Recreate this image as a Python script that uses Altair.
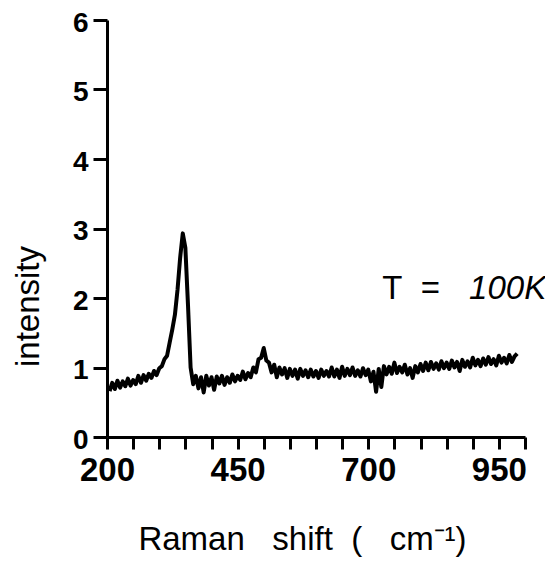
import altair as alt
import pandas as pd

shift = list(range(205, 990, 5))
intensity = [
    0.66, 0.78, 0.69, 0.81, 0.71, 0.80, 0.73, 0.84, 0.74, 0.82,   # 205-250
    0.76, 0.88, 0.78, 0.89, 0.81, 0.91, 0.85, 0.95, 0.89, 0.99,   # 255-300
    1.02, 1.12, 1.17, 1.36, 1.55, 1.76, 2.12, 2.58, 2.93, 2.72,   # 305-350
    1.90, 1.00, 0.76, 0.88, 0.70, 0.86, 0.64, 0.88, 0.74, 0.86,   # 355-400
    0.68, 0.87, 0.77, 0.88, 0.75, 0.86, 0.78, 0.90, 0.80, 0.88,   # 405-450
    0.82, 0.94, 0.83, 0.92, 0.86, 1.00, 0.93, 1.12, 1.14, 1.28,   # 455-500
    1.10, 1.07, 0.93, 1.04, 0.86, 1.00, 0.90, 0.99, 0.85, 0.98,   # 505-550
    0.88, 0.97, 0.84, 0.98, 0.88, 0.96, 0.86, 0.97, 0.87, 0.95,   # 555-600
    0.85, 0.97, 0.88, 0.95, 0.87, 1.00, 0.87, 0.97, 0.85, 1.01,   # 605-650
    0.88, 0.98, 0.89, 1.00, 0.88, 0.96, 0.87, 0.99, 0.89, 0.97,   # 655-700
    0.80, 0.94, 0.65, 0.98, 0.72, 1.02, 0.90, 1.01, 0.91, 1.07,   # 705-750
    0.92, 1.01, 0.93, 1.04, 0.90, 0.99, 0.85, 1.02, 0.93, 1.05,   # 755-800
    0.95, 1.07, 0.96, 1.08, 0.98, 1.06, 0.97, 1.09, 0.99, 1.07,   # 805-850
    0.98, 1.10, 1.00, 1.08, 0.95, 1.11, 1.01, 1.09, 1.00, 1.14,   # 855-900
    1.03, 1.11, 1.02, 1.13, 1.04, 1.15, 1.05, 1.12, 1.03, 1.17,   # 905-950
    1.07, 1.14, 1.06, 1.18, 1.08, 1.16, 1.20,                     # 955-985
]

NB = "\u00a0"
temp_text = ["T" + NB * 2 + "=", "100K"]
temp_shift = [727, 893]
temp_intensity = [1.99, 1.99]

df = pd.DataFrame({"shift": shift, "intensity": intensity})

FONT = "Liberation Sans"

x_title = "Raman" + NB * 3 + "shift" + NB * 2 + "(" + NB * 3 + "cm\u207b\u00b9)"

x_enc = alt.X(
    "shift:Q",
    scale=alt.Scale(domain=[200, 1000], nice=False, zero=False),
    axis=alt.Axis(
        values=list(range(200, 1001, 50)),
        labelExpr="(datum.value - 200) % 250 == 0 ? datum.label : ''",
        format="d",
        title=x_title,
        titleX=195, titleY=112, titleAlign="center", titleBaseline="alphabetic",
        titleFont=FONT, titleFontSize=33, titleFontWeight="normal",
        labelFont=FONT, labelFontSize=33, labelFontWeight="bold",
        labelPadding=5, tickSize=12, tickWidth=3, domainWidth=3,
        tickColor="black", domainColor="black", labelColor="black",
        titleColor="black", grid=False, labelFlush=False, labelOverlap=False,
    ),
)
y_enc = alt.Y(
    "intensity:Q",
    scale=alt.Scale(domain=[0, 6], nice=False),
    axis=alt.Axis(
        values=[0, 1, 2, 3, 4, 5, 6],
        format="d",
        title="intensity",
        titleX=-69, titleY=286, titleAlign="center", titleBaseline="alphabetic",
        titleAngle=-90,
        titleFont=FONT, titleFontSize=33, titleFontWeight="normal",
        labelFont=FONT, labelFontSize=28, labelFontWeight="bold",
        labelPadding=5, labelOffset=3, tickSize=14, tickWidth=3, domainWidth=3,
        tickColor="black", domainColor="black", labelColor="black",
        titleColor="black", grid=False, labelFlush=False, labelOverlap=False,
    ),
)

line = alt.Chart(df).mark_line(color="black", strokeWidth=4, strokeJoin="round").encode(
    x=x_enc, y=y_enc
)

tdf = pd.DataFrame({"shift": temp_shift, "intensity": temp_intensity, "t": temp_text})
t_upright = alt.Chart(tdf.iloc[[0]]).mark_text(
    align="left", baseline="alphabetic", font=FONT, fontSize=33,
    color="black", clip=False
).encode(x=x_enc, y=y_enc, text="t:N")
t_italic = alt.Chart(tdf.iloc[[1]]).mark_text(
    align="left", baseline="alphabetic", font=FONT, fontSize=33,
    fontStyle="italic", color="black", clip=False
).encode(x=x_enc, y=y_enc, text="t:N")

chart = (line + t_upright + t_italic).properties(
    width=418, height=417,
    autosize=alt.AutoSizeParams(type="none"),
    padding={"left": 99, "top": 12, "right": 20, "bottom": 125},
).configure(background="white").configure_view(stroke=None)

chart.save("out.html", embed_options={"renderer": "svg", "actions": False})
